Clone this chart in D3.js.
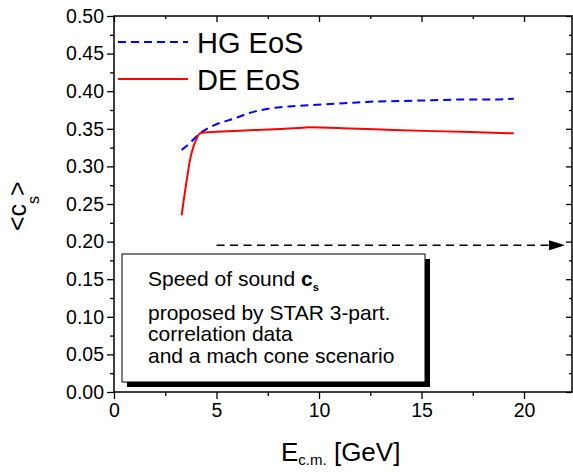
<!DOCTYPE html>
<html>
<head>
<meta charset="utf-8">
<script src="https://d3js.org/d3.v7.min.js"></script>
<style>
  body { margin: 0; background: #fff; }
  svg { font-family: "Liberation Sans", Arial, sans-serif; }
</style>
</head>
<body>
<svg id="chart" width="573" height="472"></svg>
<script>
// speed of sound vs collision energy, two equations of state
const hgE  = [3.3, 3.7, 4.1, 4.9, 5.8, 6.6, 7.6, 8.7, 9.9, 11.2, 12.5, 14, 15.5, 17, 18.5, 19.5];
const hgCs = [0.322, 0.331, 0.342, 0.355, 0.363, 0.371, 0.377, 0.380, 0.382, 0.384, 0.386, 0.387, 0.388, 0.389, 0.389, 0.390];

const deE  = [3.3, 3.38, 3.55, 3.71, 3.87, 4.03, 4.16, 4.36, 5, 6.6, 7.5, 9, 9.5, 11.5, 14, 17, 19.5];
const deCs = [0.235, 0.251, 0.282, 0.309, 0.326, 0.337, 0.343, 0.345, 0.346, 0.348, 0.349, 0.351, 0.352, 0.3505, 0.348, 0.346, 0.344];

const arrowE = [5, 22];
const arrowCs = 0.195;

const xTicks = [0, 5, 10, 15, 20];
const yTicks = [0, 0.05, 0.1, 0.15, 0.2, 0.25, 0.3, 0.35, 0.4, 0.45, 0.5];

const boxLines = ["proposed by STAR 3-part.", "correlation data", "and a mach cone scenario"];

const svg = d3.select("#chart");
const L = 114, R = 572, T = 16, B = 392;

const x = d3.scaleLinear().domain([0, 22.34]).range([L, R]);
const y = d3.scaleLinear().domain([0, 0.5]).range([B, T]);

// minor ticks
const xMinor = d3.range(2.5, 22.3, 5);
const yMinor = d3.range(0.025, 0.5, 0.05);

function styleAxis(g){
  g.select(".domain").remove();
  g.selectAll("line").attr("stroke", "#000").attr("stroke-width", 1.3);
}

svg.append("g").attr("transform", "translate(0," + B + ")")
  .call(d3.axisBottom(x).tickValues(xTicks).tickFormat(d3.format("d")).tickSize(7).tickPadding(4))
  .call(styleAxis)
  .selectAll("text").attr("font-size", 19.5).attr("fill", "#000").attr("font-family", "Liberation Sans, Arial");
svg.append("g").attr("transform", "translate(0," + B + ")")
  .call(d3.axisBottom(x).tickValues(xMinor).tickFormat("").tickSize(4))
  .call(styleAxis);

svg.append("g").attr("transform", "translate(" + L + ",0)")
  .call(d3.axisLeft(y).tickValues(yTicks).tickFormat(d3.format(".2f")).tickSize(7).tickPadding(3))
  .call(styleAxis)
  .selectAll("text").attr("font-size", 19.5).attr("fill", "#000").attr("font-family", "Liberation Sans, Arial");
svg.append("g").attr("transform", "translate(" + L + ",0)")
  .call(d3.axisLeft(y).tickValues(yMinor).tickFormat("").tickSize(4))
  .call(styleAxis);

// inner ticks on top and right
svg.append("g").attr("transform", "translate(0," + T + ")")
  .call(d3.axisTop(x).tickValues(xTicks).tickFormat("").tickSize(-6)).call(styleAxis);
svg.append("g").attr("transform", "translate(0," + T + ")")
  .call(d3.axisTop(x).tickValues(xMinor).tickFormat("").tickSize(-3)).call(styleAxis);
svg.append("g").attr("transform", "translate(" + R + ",0)")
  .call(d3.axisRight(y).tickValues(yTicks).tickFormat("").tickSize(-6)).call(styleAxis);
svg.append("g").attr("transform", "translate(" + R + ",0)")
  .call(d3.axisRight(y).tickValues(yMinor).tickFormat("").tickSize(-3)).call(styleAxis);

svg.append("rect")
  .attr("x", L).attr("y", T).attr("width", R - L).attr("height", B - T)
  .attr("fill", "none").attr("stroke", "#000").attr("stroke-width", 1.5);

// curves
const line = d3.line().x(d => x(d[0])).y(d => y(d[1])).curve(d3.curveMonotoneX);
svg.append("path")
  .datum(hgE.map((e, i) => [e, hgCs[i]]))
  .attr("d", line)
  .attr("fill", "none").attr("stroke", "#0000ff").attr("stroke-width", 2)
  .attr("stroke-dasharray", "8,5");
svg.append("path")
  .datum(deE.map((e, i) => [e, deCs[i]]))
  .attr("d", line)
  .attr("fill", "none").attr("stroke", "#ff0000").attr("stroke-width", 2);

// dashed arrow
svg.append("defs").append("marker")
  .attr("id", "head").attr("viewBox", "0 0 16 10")
  .attr("refX", 16).attr("refY", 5)
  .attr("markerWidth", 16).attr("markerHeight", 10)
  .attr("markerUnits", "userSpaceOnUse").attr("orient", "auto")
  .append("path").attr("d", "M0,0 L16,5 L0,10 Z").attr("fill", "#000");
svg.append("line")
  .attr("x1", x(arrowE[0])).attr("x2", x(arrowE[1]))
  .attr("y1", y(arrowCs)).attr("y2", y(arrowCs))
  .attr("stroke", "#000").attr("stroke-width", 1.5)
  .attr("stroke-dasharray", "8,5.5")
  .attr("marker-end", "url(#head)");

// legend
const leg = [
  {label: "HG EoS", color: "#0000ff", dash: "8,5", y: 42},
  {label: "DE EoS", color: "#ff0000", dash: null, y: 79}
];
leg.forEach(d => {
  svg.append("line")
    .attr("x1", 118).attr("x2", 188).attr("y1", d.y).attr("y2", d.y)
    .attr("stroke", d.color).attr("stroke-width", 2)
    .attr("stroke-dasharray", d.dash);
  svg.append("text")
    .attr("x", 197).attr("y", d.y + 10.5)
    .attr("font-size", 29).text(d.label);
});

// text box with shadow
const bx = 122, by = 254, bw = 303, bh = 128;
svg.append("rect").attr("x", bx + 5).attr("y", by + 5).attr("width", bw).attr("height", bh).attr("fill", "#000");
svg.append("rect").attr("x", bx).attr("y", by).attr("width", bw).attr("height", bh)
  .attr("fill", "#fff").attr("stroke", "#000").attr("stroke-width", 1);
const t0 = svg.append("text").attr("x", 148).attr("y", 286).attr("font-size", 21);
t0.append("tspan").text("Speed of sound ");
t0.append("tspan").attr("font-weight", "bold").text("c");
t0.append("tspan").attr("font-weight", "bold").attr("font-size", 11).attr("dy", 5).text("s");
const lineY = [320, 341, 363];
boxLines.forEach((s, i) => {
  svg.append("text").attr("x", 148).attr("y", lineY[i]).attr("font-size", 21).text(s);
});

// axis titles
const xt = svg.append("text").attr("x", 281).attr("y", 461).attr("font-size", 26);
xt.append("tspan").text("E");
xt.append("tspan").attr("font-size", 15).attr("dy", 4).text("c.m.");
xt.append("tspan").attr("dy", -4).text(" [GeV]");

const yt = svg.append("text")
  .attr("transform", "translate(26,231) rotate(-90)")
  .attr("font-size", 25);
yt.append("tspan").text("<c");
yt.append("tspan").attr("font-size", 16).attr("dy", 13).text("s");
yt.append("tspan").attr("dy", -13).text(">");
</script>
</body>
</html>
